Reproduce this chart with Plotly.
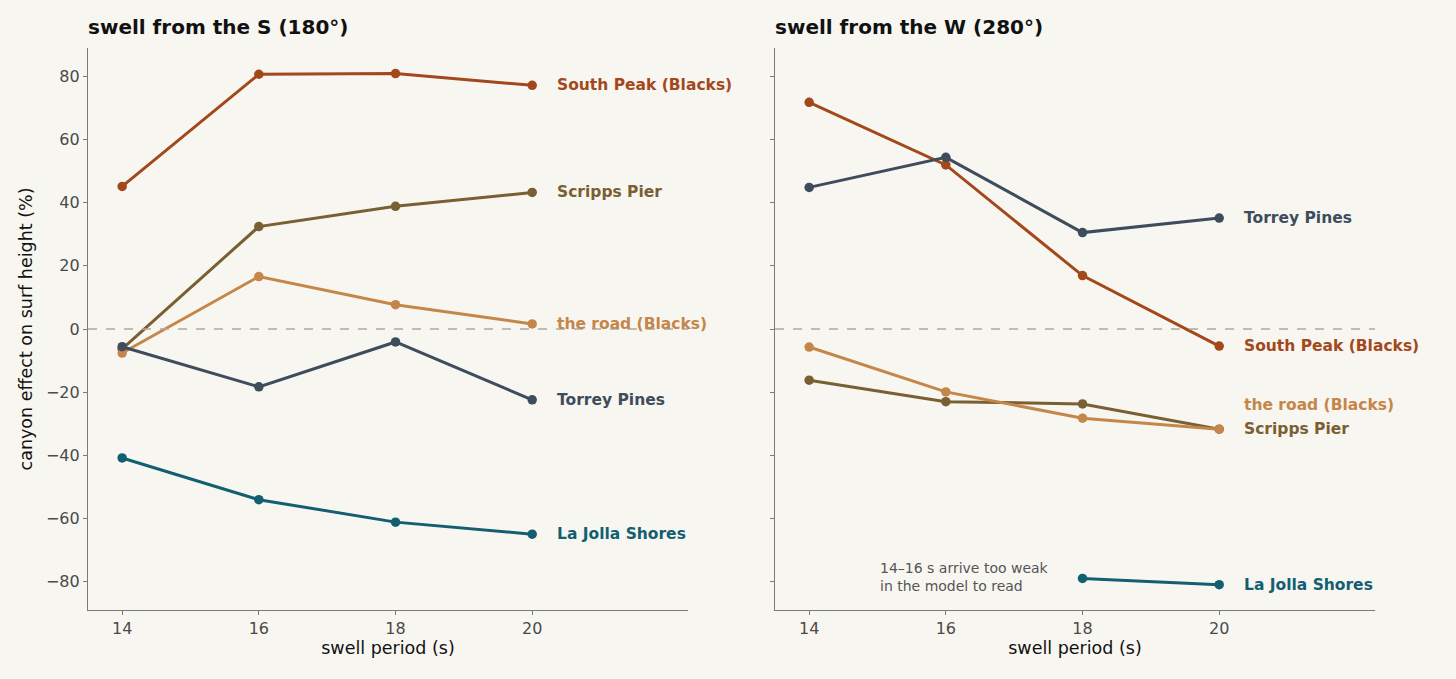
import plotly.graph_objects as go
from plotly.subplots import make_subplots

# swell period (s)
periods = [14, 16, 18, 20]

spots = ["South Peak (Blacks)", "Scripps Pier", "the road (Blacks)", "Torrey Pines", "La Jolla Shores"]
colors = ["#A3481B", "#7A5F33", "#C5864A", "#3E4C5B", "#135F71"]

# canyon effect on surf height (%), swell from the S (180°)
south_peak_s = [45.1, 80.6, 80.8, 77.1]
scripps_s = [-6.3, 32.4, 38.8, 43.2]
road_s = [-7.6, 16.6, 7.7, 1.6]
torrey_s = [-5.6, -18.3, -4.1, -22.4]
lajolla_s = [-40.8, -54.0, -61.1, -64.9]

# swell from the W (280°) -- La Jolla only readable at 18-20 s
south_peak_w = [71.7, 51.9, 16.9, -5.4]
scripps_w = [-16.2, -23.0, -23.7, -31.7]
road_w = [-5.7, -19.9, -28.2, -31.7]
torrey_w = [44.8, 54.3, 30.5, 35.1]
lajolla_w = [None, None, -78.9, -80.9]

# where the end-of-line names sit (y, in %)
label_y_s = [77.1, 43.2, 1.6, -22.4, -64.9]
label_y_w = [-5.4, -31.7, -24.2, 35.1, -80.9]

panels = [
    ("swell from the S (180°)", [south_peak_s, scripps_s, road_s, torrey_s, lajolla_s], label_y_s),
    ("swell from the W (280°)", [south_peak_w, scripps_w, road_w, torrey_w, lajolla_w], label_y_w),
]

bg = "#F8F6F1"
axis_col = "#7A7A7A"

fig = make_subplots(rows=1, cols=2, horizontal_spacing=0.0676)

for c, (title, series, label_y) in enumerate(panels, start=1):
    for name, vals, col, ly in zip(spots, series, colors, label_y):
        fig.add_trace(go.Scatter(
            x=periods, y=vals, mode="lines+markers", name=name,
            line=dict(color=col, width=3),
            marker=dict(color=col, size=9.5),
            showlegend=False), row=1, col=c)
        fig.add_annotation(
            x=20.33, y=ly, text="<b>%s</b>" % name, showarrow=False,
            xanchor="left", yanchor="middle",
            font=dict(color=col, size=15.5, family="DejaVu Sans"),
            row=1, col=c)
    fig.add_hline(y=0, line=dict(color="#B0A89E", width=1.3, dash="dash"), row=1, col=c)
    xr = "x domain" if c == 1 else "x%d domain" % c
    yr = "y domain" if c == 1 else "y%d domain" % c
    fig.add_annotation(
        x=0, y=1.0, xref=xr, yref=yr, text="<b>%s</b>" % title,
        showarrow=False, xanchor="left", yanchor="bottom", yshift=7, xshift=-2,
        font=dict(color="#111111", size=20, family="DejaVu Sans"))

fig.add_annotation(
    x=15.0, y=-78.6, text="14–16 s arrive too weak<br>in the model to read",
    showarrow=False, xanchor="left", yanchor="middle", align="left",
    font=dict(color="#555555", size=14, family="DejaVu Sans"),
    row=1, col=2)

axis_style = dict(
    showline=True, linecolor=axis_col, linewidth=1.2,
    ticks="outside", ticklen=4, tickcolor=axis_col,
    tickfont=dict(size=16, color="#4A4A4A"),
    showgrid=False, zeroline=False)

for c in (1, 2):
    fig.update_xaxes(range=[13.5, 22.28], tickvals=periods,
                     title=dict(text="swell period (s)", font=dict(size=17.5, color="#111111"), standoff=4),
                     **axis_style, row=1, col=c)
    fig.update_yaxes(range=[-88.9, 88.9], tickvals=[-80, -60, -40, -20, 0, 20, 40, 60, 80],
                     **axis_style, row=1, col=c)

fig.update_yaxes(title=dict(text="canyon effect on surf height (%)", font=dict(size=17.5, color="#111111"), standoff=8),
                 row=1, col=1)
fig.update_yaxes(showticklabels=False, row=1, col=2)

fig.update_layout(
    width=1456, height=679,
    paper_bgcolor=bg, plot_bgcolor=bg,
    font=dict(family="DejaVu Sans", color="#333333"),
    margin=dict(l=88, r=81, t=48, b=69),
)

# drop the browser's default page margin so the figure sits flush
fig.write_html("out.html", config={"displayModeBar": False},
               post_script="document.body.style.margin='0';document.body.style.background='%s';" % bg)
